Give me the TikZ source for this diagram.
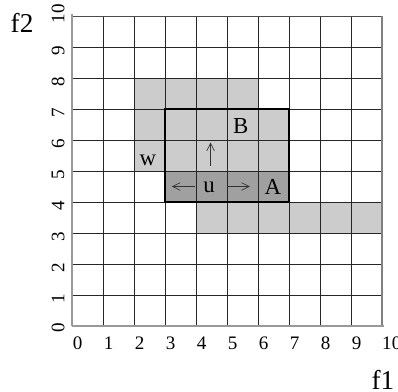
\documentclass[tikz,border=0pt]{standalone}
\usepackage{fontspec}
\setmainfont{Liberation Serif}
\usetikzlibrary{arrows.meta}
\definecolor{lightcell}{HTML}{CCCCCC}
\definecolor{darkcell}{HTML}{A0A0A0}
\definecolor{axisgray}{HTML}{999999}
\begin{document}
\begin{tikzpicture}[x=1cm,y=1cm,
  gridline/.style={line width=0.6pt,black!85},
  axisline/.style={line width=1.2pt,axisgray},
  boxline/.style={line width=2.2pt,black},
  ticklab/.style={font=\fontsize{17.5}{19}\selectfont,inner sep=0pt},
  axlab/.style={font=\fontsize{25}{28}\selectfont,inner sep=0pt},
  celllab/.style={font=\fontsize{21}{23}\selectfont,inner sep=0pt},
  arr/.style={line width=0.6pt,black!80,-{Straight Barb[length=7pt,width=7pt,line width=0.6pt]}}]
\useasboundingbox (-2.3226,-2.129) rectangle (10.516,10.516);
% shaded cells
\fill[lightcell] (2,7) rectangle (6,8);
\fill[lightcell] (2,5) rectangle (3,7);
\fill[lightcell] (3,5) rectangle (7,7);
\fill[darkcell] (3,4) rectangle (7,5);
\fill[lightcell] (4,3) rectangle (10,4);
% grid
\foreach \i in {1,...,9} {
  \draw[gridline] (\i,0) -- (\i,10);
  \draw[gridline] (0,\i) -- (10,\i);
}
\draw[line width=0.8pt,black!70] (0,10) -- (10,10);
\draw[line width=1.0pt,black!50] (10,0) -- (10,10);
\draw[axisline] (0,0) -- (0,10.05);
\draw[axisline] (0,0) -- (10.05,0);
% thick box
\draw[boxline] (3,4) rectangle (7,7);
% tick labels
\foreach \i in {0,...,9} {
  \node[ticklab,anchor=west] (xl\i) at (\i+0.02,-0.55) {\i};
}
\node[ticklab,anchor=west] (xl10) at (10.0,-0.55) {10};
\node[ticklab,rotate=90] (yl0) at (-0.45,-0.07) {0};
\foreach \i in {1,...,9} {
  \node[ticklab,rotate=90] (yl\i) at (-0.45,\i-0.13) {\i};
}
\node[ticklab,rotate=90] (yl10) at (-0.45,10.08) {10};
% axis labels
\node[axlab] (f2) at (-1.61,9.77) {f2};
\node[axlab] (f1) at (10.03,-1.74) {f1};
% cell labels
\node[celllab] (B) at (5.44,6.46) {B};
\node[celllab] (w) at (2.45,5.35) {w};
\node[celllab] (A) at (6.48,4.47) {A};
\node[celllab] (u) at (4.42,4.47) {u};
% arrows
\coordinate (lt) at (3.22,4.5);
\coordinate (rt) at (5.74,4.5);
\coordinate (ub) at (4.47,5.16);
\coordinate (ut) at (4.47,5.92);
\coordinate (ls) at (3.97,4.5);
\coordinate (rs) at (4.99,4.5);
\draw[arr] (ls) -- (lt);
\draw[arr] (rs) -- (rt);
\draw[arr] (ub) -- (ut);
\end{tikzpicture}
\end{document}
